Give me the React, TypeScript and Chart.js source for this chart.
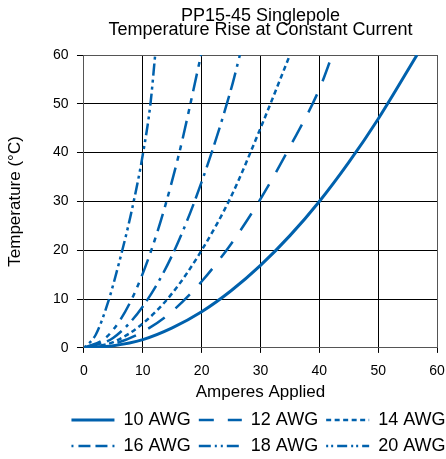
import React, { useEffect, useRef } from 'react';
import { Chart, registerables } from 'chart.js';

Chart.register(...registerables);

// ---- text ----
const titleLines = ['PP15-45 Singlepole', 'Temperature Rise at Constant Current'];
const xAxisTitle = 'Amperes Applied';
const yAxisTitle = 'Temperature (°C)';
const xTickValues = [0, 10, 20, 30, 40, 50, 60];
const yTickValues = [0, 10, 20, 30, 40, 50, 60];
const seriesNames = ['10 AWG', '12 AWG', '14 AWG', '16 AWG', '18 AWG', '20 AWG'];

// ---- data ----
const awg10Amps = [0, 5, 10, 15, 20, 25, 30, 35, 40, 45, 50, 56.6];
const awg10Temp = [0, 0.45, 1.7, 4.1, 7.4, 11.7, 16.9, 23, 30, 38, 46.9, 60];

const awg12Amps = [0, 5, 10, 15, 20, 25, 30, 35, 40, 42.2];
const awg12Temp = [0, 0.8, 3.3, 7.5, 13.6, 21.3, 30.5, 41.2, 53, 60];

const awg14Amps = [0, 5, 10, 15, 20, 25, 30, 35];
const awg14Temp = [0, 1.2, 5, 11.2, 20, 31, 45, 60];

const awg16Amps = [0, 5, 10, 15, 20, 25, 26.5];
const awg16Temp = [0, 2.1, 8.5, 19, 34, 53, 60];

const awg18Amps = [0, 4, 8, 12, 16, 19.9];
const awg18Temp = [0, 2.4, 9.7, 22, 39, 60];

const awg20Amps = [0, 2, 4, 6, 8, 10, 11.3, 12.1];
const awg20Temp = [0, 2.7, 9, 17.6, 27.5, 39.6, 50, 60];

const seriesAmps = [awg10Amps, awg12Amps, awg14Amps, awg16Amps, awg18Amps, awg20Amps];
const seriesTemps = [awg10Temp, awg12Temp, awg14Temp, awg16Temp, awg18Temp, awg20Temp];

// ---- styles ----
const LINE_COLOR = '#0061ad';
const dashes: number[][] = [
  [],
  [20, 14],
  [5, 3.5],
  [18, 6, 18, 6, 3, 6],
  [18, 7, 5, 6, 5, 7],
  [3, 4, 3, 4, 12, 4],
];
const legendDashes: number[][] = [
  [],
  [15, 14],
  [5, 3.5],
  [2, 5, 12, 5, 12, 5],
  [12, 4, 2, 4, 2, 4],
  [2, 3, 2, 4, 10, 4],
];
const widths = [3, 2.5, 2.5, 2.5, 2.5, 2.5];
const FONT = "'Liberation Sans', Arial, Helvetica, sans-serif";

const legendCenter = {
  id: 'legendCenter',
  afterLayout(chart: any) {
    const lg = chart.legend;
    const ca = chart.chartArea;
    if (!lg || !ca) return;
    const shift = (ca.left + ca.right) / 2 - 2 - (lg.left + lg.right) / 2;
    lg.left += shift;
    lg.right += shift;
    lg.top += 2;
    lg.bottom += 2;
  },
};

export default function App() {
  const ref = useRef<HTMLCanvasElement>(null);

  useEffect(() => {
    if (!ref.current) return;
    const datasets = seriesNames.map((name, i) => ({
      label: name,
      data: seriesAmps[i].map((a, j) => ({ x: a, y: seriesTemps[i][j] })),
      borderColor: LINE_COLOR,
      backgroundColor: LINE_COLOR,
      borderWidth: widths[i],
      borderDash: dashes[i],
      borderCapStyle: 'butt' as const,
      pointRadius: 0,
      pointHoverRadius: 0,
      fill: false,
      cubicInterpolationMode: 'monotone' as const,
    }));

    const gridColor = (c: any) => {
      const n = c.scale.ticks.length - 1;
      return c.index === 0 || c.index === n ? '#555' : '#000';
    };

    const chart = new Chart(ref.current, {
      type: 'line',
      data: { datasets },
      plugins: [legendCenter],
      options: {
        animation: false,
        responsive: false,
        devicePixelRatio: 1,
        layout: { padding: { left: 0, right: 9, top: 0, bottom: -4 } },
        plugins: {
          title: {
            display: true,
            text: titleLines,
            color: '#000',
            fullSize: false,
            font: { family: FONT, size: 18, weight: 'normal', lineHeight: 0.8 },
            padding: { top: 8.8, bottom: 17.4 },
          },
          legend: {
            display: true,
            position: 'bottom',
            labels: {
              color: '#000',
              font: { family: FONT, size: 18 },
              usePointStyle: true,
              pointStyle: 'line',
              pointStyleWidth: 43,
              padding: 8,
              generateLabels: (ch: any) => {
                const items = (Chart as any).defaults.plugins.legend.labels.generateLabels(ch);
                items.forEach((it: any, i: number) => {
                  it.lineDash = legendDashes[i];
                  it.lineWidth = widths[i];
                  it.strokeStyle = LINE_COLOR;
                  it.fillStyle = LINE_COLOR;
                  it.pointStyle = 'line';
                  it.lineCap = 'butt';
                });
                return items;
              },
            },
          },
          tooltip: { enabled: false },
        },
        scales: {
          x: {
            type: 'linear',
            min: 0,
            max: 60,
            afterBuildTicks: (scale: any) => {
              scale.ticks = xTickValues.map((v) => ({ value: v }));
            },
            ticks: {
              color: '#000',
              font: { family: FONT, size: 14, lineHeight: 2.4 },
              padding: 1,
              maxRotation: 0,
            },
            grid: { color: gridColor, tickColor: '#000', tickLength: 5, lineWidth: 1 },
            border: { display: true, color: '#555', width: 1 },
            title: {
              display: true,
              text: xAxisTitle,
              color: '#000',
              font: { family: FONT, size: 17, lineHeight: 1.2 },
              padding: { top: -6.7, bottom: -1.2 },
            },
          },
          y: {
            type: 'linear',
            min: 0,
            max: 60,
            afterBuildTicks: (scale: any) => {
              scale.ticks = yTickValues.map((v) => ({ value: v }));
            },
            ticks: {
              color: '#000',
              font: { family: FONT, size: 14, lineHeight: 1 },
              padding: 8.5,
            },
            grid: { color: gridColor, tickColor: '#000', tickLength: 7, lineWidth: 1 },
            border: { display: true, color: '#555', width: 1 },
            title: {
              display: true,
              text: yAxisTitle,
              color: '#000',
              font: { family: FONT, size: 17, lineHeight: 1.2 },
              padding: { top: 4.8, bottom: 19.2 },
            },
          },
        },
      },
    } as any);
    return () => chart.destroy();
  }, []);

  return (
    <div style={{ position: 'absolute', left: 0, top: 0, width: 446, height: 459 }}>
      <canvas ref={ref} width={446} height={459} style={{ display: 'block' }} />
    </div>
  );
}
